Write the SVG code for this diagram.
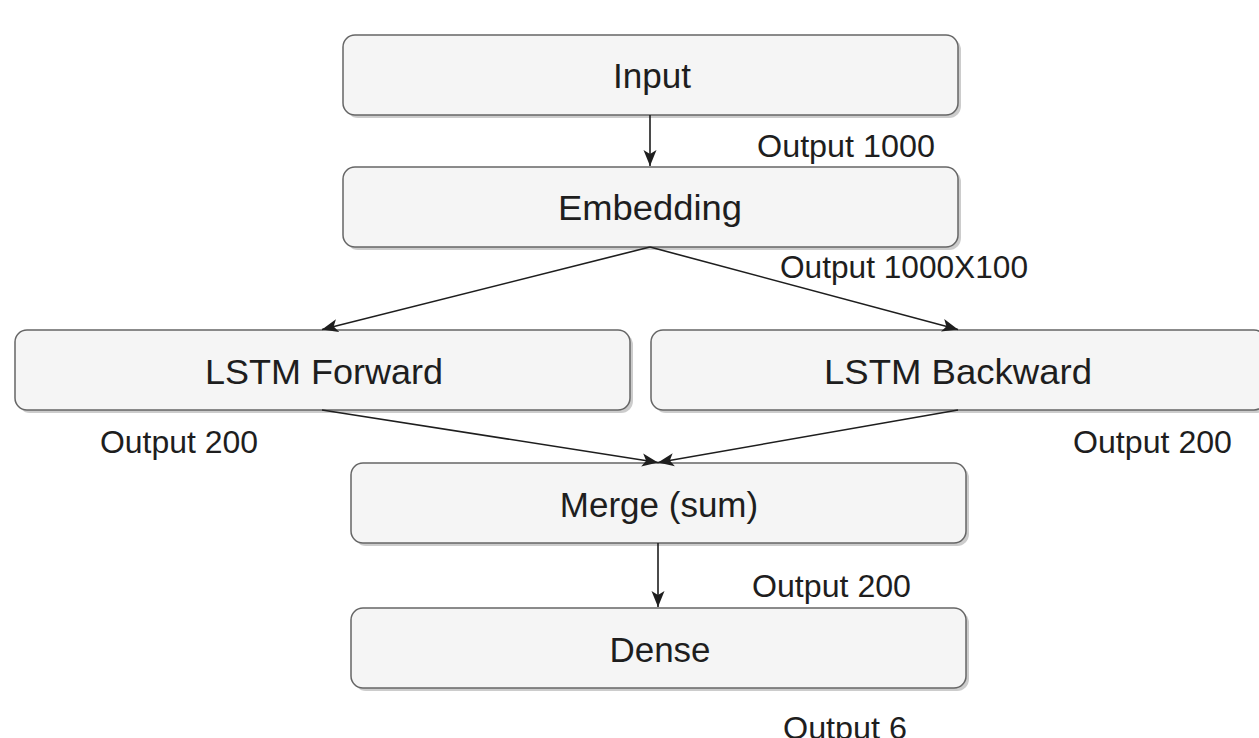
<svg xmlns="http://www.w3.org/2000/svg" width="1259" height="738" viewBox="0 0 1259 738">
<style>
.box{fill:#f5f5f5;stroke:#666666;stroke-width:1.5}
.shadow{fill:#cccccc}
.ntext{font-family:"Liberation Sans",Arial,Helvetica,sans-serif;font-size:35px;fill:#1e1e1e;text-anchor:middle}
.ltext{font-family:"Liberation Sans",Arial,Helvetica,sans-serif;font-size:31px;fill:#1e1e1e}
.edge{stroke:#1e1e1e;stroke-width:1.6;fill:none}
</style>
<defs>
<marker id="arr" markerUnits="userSpaceOnUse" markerWidth="18" markerHeight="14" refX="16" refY="7" orient="auto">
<path d="M0,0.5 L16,7 L0,13.5 L4,7 Z" fill="#1e1e1e"/>
</marker>
</defs>
<rect width="1259" height="738" fill="#ffffff"/>
<g id="node-input">
<rect class="shadow" x="346" y="38" width="615" height="80" rx="12"/>
<rect class="box" x="343" y="35" width="615" height="80" rx="12"/>
<text class="ntext" x="652" y="88" textLength="78" lengthAdjust="spacingAndGlyphs">Input</text>
</g>
<g id="node-embedding">
<rect class="shadow" x="346" y="170" width="615" height="80" rx="12"/>
<rect class="box" x="343" y="167" width="615" height="80" rx="12"/>
<text class="ntext" x="650" y="220" textLength="184" lengthAdjust="spacingAndGlyphs">Embedding</text>
</g>
<g id="node-lstm-forward">
<rect class="shadow" x="18" y="333" width="615" height="80" rx="12"/>
<rect class="box" x="15" y="330" width="615" height="80" rx="12"/>
<text class="ntext" x="324" y="384" textLength="238" lengthAdjust="spacingAndGlyphs">LSTM Forward</text>
</g>
<g id="node-lstm-backward">
<rect class="shadow" x="654" y="333" width="615" height="80" rx="12"/>
<rect class="box" x="651" y="330" width="615" height="80" rx="12"/>
<text class="ntext" x="958" y="384" textLength="268" lengthAdjust="spacingAndGlyphs">LSTM Backward</text>
</g>
<g id="node-merge">
<rect class="shadow" x="354" y="466" width="615" height="80" rx="12"/>
<rect class="box" x="351" y="463" width="615" height="80" rx="12"/>
<text class="ntext" x="659" y="517">Merge (sum)</text>
</g>
<g id="node-dense">
<rect class="shadow" x="354" y="611" width="615" height="80" rx="12"/>
<rect class="box" x="351" y="608" width="615" height="80" rx="12"/>
<text class="ntext" x="660" y="662">Dense</text>
</g>
<g id="connectors">
<line class="edge" x1="650" y1="115" x2="650" y2="166" marker-end="url(#arr)"/>
<line class="edge" x1="650" y1="247" x2="322" y2="329.5" marker-end="url(#arr)"/>
<line class="edge" x1="650" y1="247" x2="958" y2="329.5" marker-end="url(#arr)"/>
<line class="edge" x1="322" y1="410" x2="658" y2="462.5" marker-end="url(#arr)"/>
<line class="edge" x1="958" y1="410" x2="658" y2="462.5" marker-end="url(#arr)"/>
<line class="edge" x1="658" y1="543" x2="658" y2="607" marker-end="url(#arr)"/>
</g>
<g id="labels">
<text class="ltext" x="757" y="157" textLength="178" lengthAdjust="spacingAndGlyphs">Output 1000</text>
<text class="ltext" x="780" y="278" textLength="248" lengthAdjust="spacingAndGlyphs">Output 1000X100</text>
<text class="ltext" x="100" y="453" textLength="158" lengthAdjust="spacingAndGlyphs">Output 200</text>
<text class="ltext" x="1073" y="453" textLength="159" lengthAdjust="spacingAndGlyphs">Output 200</text>
<text class="ltext" x="752" y="597" textLength="159" lengthAdjust="spacingAndGlyphs">Output 200</text>
<text class="ltext" x="783" y="739" textLength="124" lengthAdjust="spacingAndGlyphs">Output 6</text>
</g>
</svg>
